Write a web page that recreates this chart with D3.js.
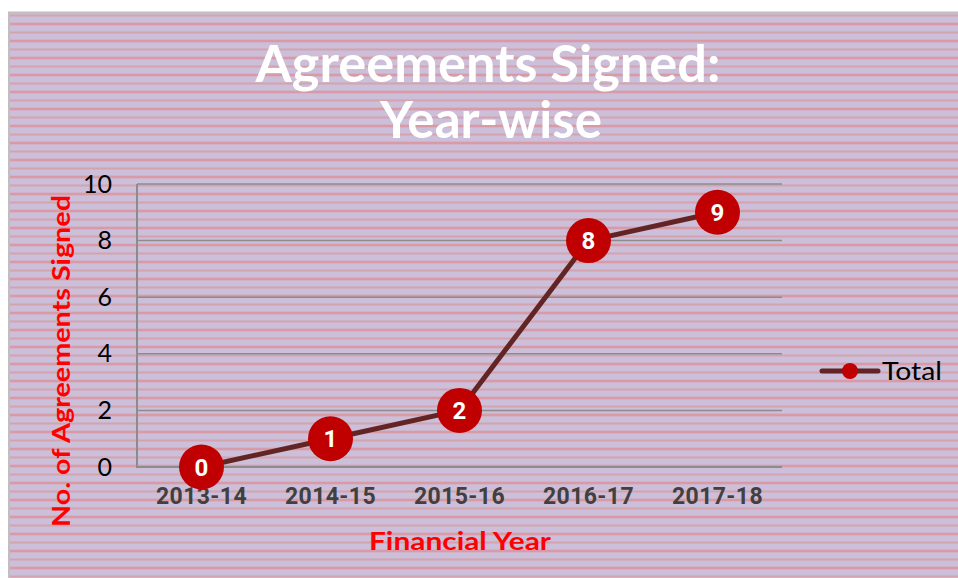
<!DOCTYPE html>
<html>
<head>
<meta charset="utf-8">
<script src="https://cdn.jsdelivr.net/npm/d3@7"></script>
<style>
  html, body { margin: 0; padding: 0; background: #ffffff; }
  svg { display: block; }
</style>
</head>
<body>
<div id="chart"></div>
<script>
// chart data
const years = ['2013-14', '2014-15', '2015-16', '2016-17', '2017-18'];
const totals = [0, 1, 2, 8, 9];
const yTicks = [0, 2, 4, 6, 8, 10];
const titleLines = ['Agreements Signed:', 'Year-wise'];
const seriesName = 'Total';

const width = 958, height = 578;
const plot = { left: 137, right: 782, top: 184, bottom: 467 };

const svg = d3.select('#chart')
    .append('svg')
    .attr('width', width)
    .attr('height', height);

// striped background
const defs = svg.append('defs');
const pat = defs.append('pattern')
    .attr('id', 'stripes')
    .attr('patternUnits', 'userSpaceOnUse')
    .attr('x', 0).attr('y', 2.5)
    .attr('width', 20).attr('height', 17);
pat.append('rect').attr('width', 20).attr('height', 17).attr('fill', '#cbbfd9');
pat.append('rect').attr('y', 12).attr('width', 20).attr('height', 2).attr('fill', '#d5a3ad');
pat.append('rect').attr('y', 3.5).attr('width', 20).attr('height', 2).attr('fill', '#dd8e94');

svg.append('rect')
    .attr('x', 9).attr('y', 12.5)
    .attr('width', width - 9).attr('height', height - 12.5)
    .attr('fill', 'url(#stripes)');
svg.append('path')
    .attr('d', `M9,${height} V12.5 H${width}`)
    .attr('fill', 'none')
    .attr('stroke', '#bfbfbf')
    .attr('stroke-width', 2);

// title (stretched a little, the original face is wider)
const titleWidths = [465, 222];
svg.append('g')
    .selectAll('text')
    .data(titleLines)
    .enter()
    .append('text')
    .attr('text-anchor', 'middle')
    .attr('font-family', 'Lato, sans-serif')
    .attr('font-weight', 'bold')
    .attr('font-size', 51)
    .attr('fill', '#ffffff')
    .attr('x', (d, i) => i === 0 ? 488 : 491)
    .attr('y', (d, i) => 82 + i * 56)
    .attr('textLength', (d, i) => titleWidths[i])
    .attr('lengthAdjust', 'spacingAndGlyphs')
    .text(d => d);

const x = d3.scaleBand().domain(years).range([plot.left, plot.right]);
const y = d3.scaleLinear().domain([0, 10]).range([plot.bottom, plot.top]);

// gridlines
svg.append('g')
    .selectAll('line')
    .data(yTicks.filter(t => t > 0))
    .enter()
    .append('line')
    .attr('x1', plot.left).attr('x2', plot.right)
    .attr('y1', d => y(d)).attr('y2', d => y(d))
    .attr('stroke', '#8c8c8c')
    .attr('stroke-width', 1.5);

// axes lines
svg.append('path')
    .attr('d', `M${plot.left},${plot.top} V${plot.bottom} H${plot.right}`)
    .attr('fill', 'none')
    .attr('stroke', '#8c8c8c')
    .attr('stroke-width', 2);

// y tick labels
const yAxis = svg.append('g')
    .attr('transform', `translate(${plot.left - 25},0)`)
    .call(d3.axisLeft(y).tickValues(yTicks).tickSize(0).tickPadding(0));
yAxis.select('.domain').remove();
yAxis.selectAll('text')
    .attr('font-family', 'Lato, sans-serif')
    .attr('font-size', 25)
    .attr('fill', '#000000');

// x tick labels
const xAxis = svg.append('g')
    .attr('transform', `translate(0,${plot.bottom + 21})`)
    .call(d3.axisBottom(x).tickSize(0).tickPadding(0));
xAxis.select('.domain').remove();
xAxis.selectAll('text')
    .attr('font-family', 'Roboto, sans-serif')
    .attr('font-weight', 'bold')
    .attr('font-size', 23)
    .attr('letter-spacing', 0.4)
    .attr('fill', '#404040');

// axis titles
svg.append('text')
    .attr('x', 460).attr('y', 550)
    .attr('text-anchor', 'middle')
    .attr('font-family', 'Lato, sans-serif')
    .attr('font-weight', 'bold')
    .attr('font-size', 25)
    .attr('fill', '#ff0000')
    .attr('textLength', 182)
    .attr('lengthAdjust', 'spacingAndGlyphs')
    .text('Financial Year');

svg.append('text')
    .attr('transform', 'translate(70,361) rotate(-90)')
    .attr('text-anchor', 'middle')
    .attr('font-family', 'Lato, sans-serif')
    .attr('font-weight', 'bold')
    .attr('font-size', 25)
    .attr('fill', '#ff0000')
    .attr('textLength', 332)
    .attr('lengthAdjust', 'spacingAndGlyphs')
    .text('No. of Agreements Signed');

// line series
const cx = d => x(d) + x.bandwidth() / 2;
const line = d3.line()
    .x((d, i) => cx(years[i]))
    .y(d => y(d));

svg.append('path')
    .datum(totals)
    .attr('d', line)
    .attr('fill', 'none')
    .attr('stroke', '#632523')
    .attr('stroke-width', 5)
    .attr('stroke-linejoin', 'round');

const pts = svg.append('g')
    .selectAll('g')
    .data(totals)
    .enter()
    .append('g')
    .attr('transform', (d, i) => `translate(${cx(years[i])},${y(d)})`);

pts.append('circle')
    .attr('r', 22.5)
    .attr('fill', '#c00000');

pts.append('text')
    .attr('text-anchor', 'middle')
    .attr('dy', '0.36em')
    .attr('font-family', 'Roboto, sans-serif')
    .attr('font-weight', 'bold')
    .attr('font-size', 24)
    .attr('fill', '#ffffff')
    .text(d => d);

// legend
const legend = svg.append('g').attr('transform', 'translate(822,371)');
legend.append('line')
    .attr('x1', 0).attr('x2', 56)
    .attr('stroke', '#632523')
    .attr('stroke-width', 5)
    .attr('stroke-linecap', 'round');
legend.append('circle')
    .attr('cx', 28).attr('r', 8)
    .attr('fill', '#c00000');
legend.append('text')
    .attr('x', 60).attr('dy', '0.35em')
    .attr('font-family', 'Lato, sans-serif')
    .attr('font-size', 25)
    .attr('fill', '#000000')
    .attr('textLength', 60)
    .attr('lengthAdjust', 'spacingAndGlyphs')
    .text(seriesName);
</script>
</body>
</html>
